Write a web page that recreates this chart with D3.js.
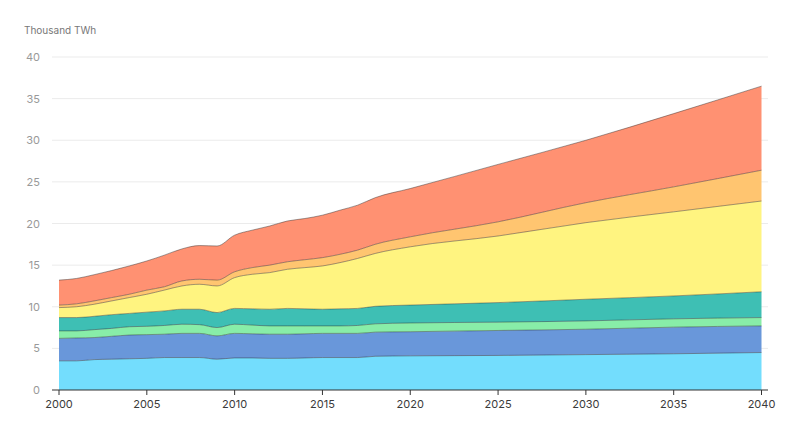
<!DOCTYPE html>
<html><head><meta charset="utf-8">
<script src="https://cdn.jsdelivr.net/npm/d3@7"></script>
<style>body{margin:0;background:#fff;font-family:Inter,"Noto Sans",sans-serif;}</style>
</head><body><svg id="c" width="800" height="435"></svg>
<script>
const years = [2000,2001,2002,2003,2004,2005,2006,2007,2008,2009,2010,2011,2012,2013,2014,2015,2016,2017,2018,2020,2025,2030,2035,2040];
const seriesNames = ["Series 1","Series 2","Series 3","Series 4","Series 5","Series 6","Series 7"];
const s1 = [3.5,3.5,3.65,3.7,3.75,3.8,3.9,3.9,3.9,3.7,3.85,3.85,3.8,3.8,3.85,3.9,3.9,3.9,4.05,4.1,4.15,4.25,4.35,4.5];
const s2 = [2.7,2.75,2.65,2.75,2.85,2.85,2.8,2.9,2.9,2.8,2.95,2.9,2.9,2.9,2.9,2.9,2.9,2.9,2.9,2.9,3.0,3.05,3.2,3.2];
const s3 = [0.9,0.85,0.95,0.95,1.0,1.0,1.05,1.1,1.05,1.0,1.1,1.05,1.0,1.0,0.95,0.9,0.9,0.95,1.0,1.05,1.0,1.0,1.0,1.0];
const s4 = [1.6,1.6,1.6,1.65,1.6,1.7,1.75,1.8,1.85,1.8,1.9,1.95,2.0,2.1,2.05,2.0,2.05,2.05,2.1,2.15,2.35,2.6,2.75,3.1];
const s5 = [1.2,1.3,1.45,1.65,1.9,2.15,2.5,2.8,3.0,3.2,3.7,4.15,4.4,4.7,4.95,5.2,5.55,6.0,6.35,7.0,8.0,9.2,10.1,10.9];
const s6 = [0.3,0.35,0.4,0.4,0.4,0.5,0.4,0.6,0.6,0.7,0.7,0.8,0.9,0.9,0.95,1.0,1.0,1.0,1.1,1.2,1.7,2.4,3.0,3.7];
const s7 = [3.0,3.05,3.15,3.25,3.4,3.5,3.8,3.85,4.05,4.1,4.4,4.5,4.7,4.9,4.95,5.1,5.3,5.4,5.6,5.8,6.9,7.5,8.8,10.1];
const yTicks = [0,5,10,15,20,25,30,35,40];
const xTicks = [2000,2005,2010,2015,2020,2025,2030,2035,2040];
const colors = ["#73ddfd","#6997da","#88eda8","#3ebfb4","#fff480","#ffc570","#ff9172"];

const allSeries = [s1,s2,s3,s4,s5,s6,s7];
const table = years.map((yr,i)=>{const o={year:yr}; seriesNames.forEach((n,k)=>o[n]=allSeries[k][i]); return o;});
const stack = d3.stack().keys(seriesNames)(table);

const svg = d3.select("#c");
const x = d3.scaleLinear().domain([2000,2040]).range([59,761.5]);
const y = d3.scaleLinear().domain([0,40]).range([390,57]);

svg.append("g").selectAll("line").data(yTicks.filter(t=>t>0)).join("line")
  .attr("x1",52).attr("x2",768).attr("y1",d=>y(d)).attr("y2",d=>y(d))
  .attr("stroke","#ebebeb").attr("stroke-width",1);

svg.append("g").selectAll("text").data(yTicks).join("text")
  .attr("x",40).attr("y",d=>y(d)+4).attr("text-anchor","end")
  .attr("font-size",11).attr("fill","#999").text(d=>d);

svg.append("text").attr("x",24).attr("y",34).attr("font-size",10).attr("fill","#777").text("Thousand TWh");

const area = d3.area().curve(d3.curveMonotoneX)
  .x(d=>x(d.data.year)).y0(d=>y(d[0])).y1(d=>y(d[1]));
const line = d3.line().curve(d3.curveMonotoneX)
  .x(d=>x(d.data.year)).y(d=>y(d[1]));

svg.append("g").selectAll("path").data(stack).join("path")
  .attr("d",area).attr("fill",(d,i)=>colors[i]);
svg.append("g").selectAll("path").data(stack).join("path")
  .attr("d",line).attr("fill","none").attr("stroke","rgba(40,40,40,0.55)").attr("stroke-width",0.8);

const xa = svg.append("g").attr("transform","translate(0,390)");
xa.append("line").attr("x1",52).attr("x2",768).attr("stroke","#333").attr("stroke-width",1.2);
xa.selectAll("line.t").data(xTicks).join("line").attr("class","t")
  .attr("x1",d=>x(d)).attr("x2",d=>x(d)).attr("y1",0).attr("y2",5).attr("stroke","#333");
xa.selectAll("text").data(xTicks).join("text")
  .attr("x",d=>x(d)).attr("y",18).attr("text-anchor","middle")
  .attr("font-size",11).attr("fill","#3a3a3a").text(d=>d);
</script></body></html>
